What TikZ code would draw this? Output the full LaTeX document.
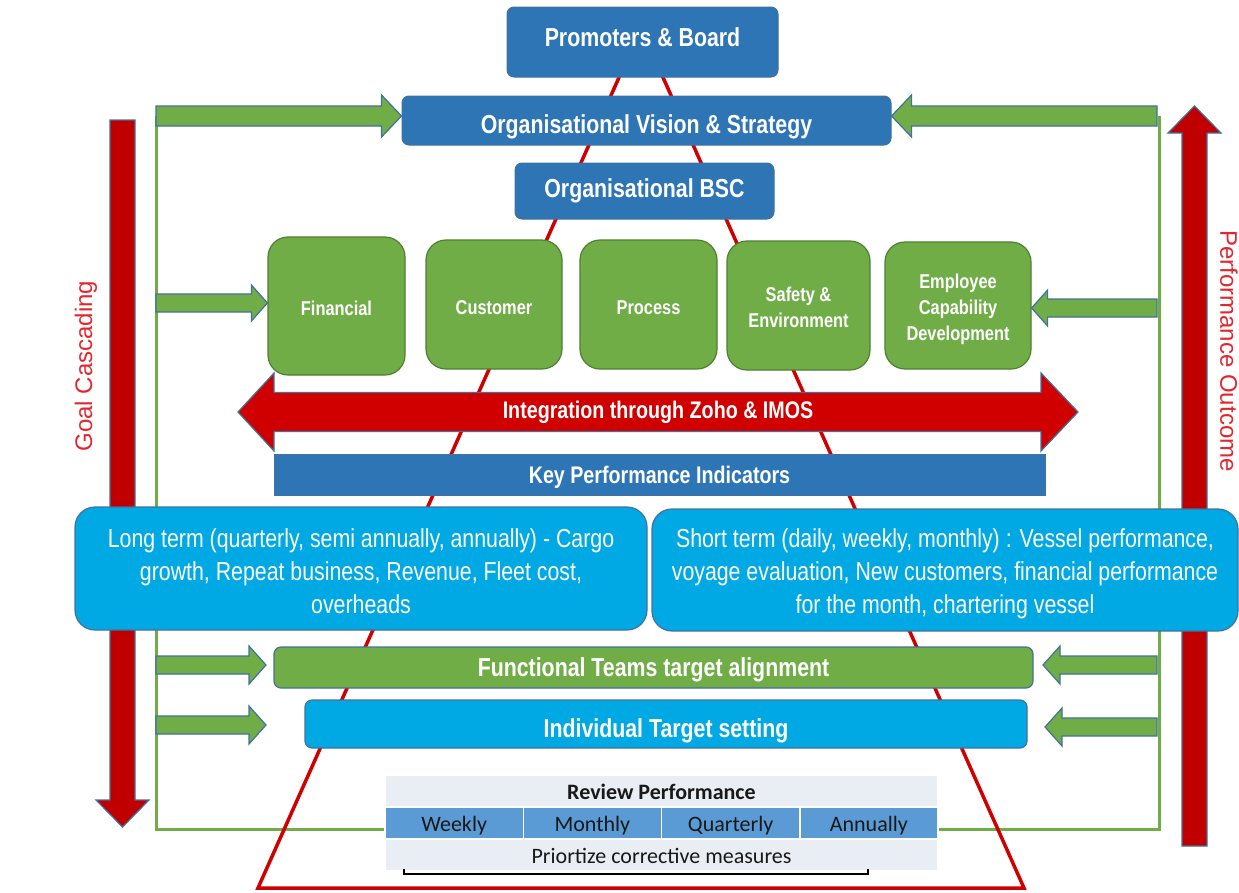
\documentclass[tikz,border=0pt]{standalone}
\usepackage{fontspec}
\setmainfont{Liberation Sans}
\newfontfamily\narrowfont[FakeStretch=0.82]{Liberation Sans}
\newfontfamily\tablefont{Carlito}
\usetikzlibrary{calc}
\definecolor{boxblue}{HTML}{2E75B6}
\definecolor{edgeblue}{HTML}{41719C}
\definecolor{bscgreen}{HTML}{70AD47}
\definecolor{greenedge}{HTML}{507E32}
\definecolor{skyblue}{HTML}{00A9E4}
\definecolor{deepred}{HTML}{C00000}
\definecolor{pyred}{HTML}{D00000}
\definecolor{labelred}{HTML}{E3262D}
\definecolor{rowpale}{HTML}{E9EDF4}
\definecolor{rowblue}{HTML}{5B9BD5}

\begin{document}
\begin{tikzpicture}[x=1pt,y=-1pt,
    darkbox/.style={draw=edgeblue,line width=1pt,fill=boxblue,rounded corners=7pt,inner sep=0pt,text=white,font=\narrowfont\bfseries\fontsize{26}{30}\selectfont},
    pillar/.style={draw=greenedge,line width=1.2pt,fill=bscgreen,rounded corners=20pt,inner sep=0pt,text=white,align=center,font=\narrowfont\bfseries\fontsize{20}{26}\selectfont},
    oneline/.style={text height=19pt,text depth=0pt},
    twoline/.style={text height=45pt},
    threeline/.style={text height=75pt},
    termbox/.style={draw=edgeblue,line width=1.2pt,fill=skyblue,rounded corners=20pt,inner sep=0pt,text=white,align=center,font=\narrowfont\fontsize{26}{33}\selectfont},
    barbox/.style={draw=edgeblue,line width=1.2pt,rounded corners=7pt,inner sep=0pt,text=white,font=\narrowfont\bfseries\fontsize{26}{30}\selectfont},
    tcell/.style={draw=white,line width=1.5pt,inner sep=0pt,minimum height=31pt,text height=17pt,text depth=0pt,font=\tablefont\fontsize{22}{24}\selectfont,text=black!90},
    garrow/.style={draw=edgeblue,line width=1.2pt,fill=bscgreen},
    rarrow/.style={draw=edgeblue,line width=1.2pt,fill=deepred},
    greenframe/.style={draw=bscgreen,line width=3pt},
    pyramid/.style={draw=pyred,line width=3.5pt},
    sidetext/.style={text=labelred,font=\fontsize{24}{28}\selectfont}]
    \useasboundingbox (0,0) rectangle (1239,892);
    \def\blockarr#1#2#3#4#5#6{
    \draw[#1] let \p1=($(#3)!#6!(#2)$) in
    ($(#2)!#4!90:(#3)$) -- ($(\p1)!#4!90:(#3)$) -- ($(\p1)!#5!90:(#3)$) -- (#3)
    -- ($(\p1)!#5!-90:(#3)$) -- ($(\p1)!#4!-90:(#3)$) -- ($(#2)!#4!-90:(#3)$) -- cycle;
    }

    \coordinate (vl) at (156,116);
    \coordinate (vr) at (1159,116);
    \coordinate (fbl) at (156,829);
    \coordinate (fbr) at (1159,829);
    \draw[greenframe] (vl) -- (fbl) -- (fbr) -- (vr);

    \coordinate (apex) at (641,28);
    \coordinate (baseL) at (258,888);
    \coordinate (baseR) at (1024,888);
    \draw[pyramid] (apex) -- (baseL) -- (baseR) -- cycle;

    \coordinate (gc1) at (122.5,120);
    \coordinate (gc2) at (122.5,827);
    \coordinate (po1) at (1194.5,846);
    \coordinate (po2) at (1194.5,106);
    \blockarr{rarrow}{gc1}{gc2}{12.5pt}{26.5pt}{27pt}
    \blockarr{rarrow}{po1}{po2}{12.5pt}{26.5pt}{27pt}
    \node[sidetext,rotate=90] (goal) at (86,366) {Goal Cascading};
    \node[sidetext,rotate=-90] (outcome) at (1229,351) {Performance Outcome};

    \node[darkbox,text height=19pt,text depth=10pt,minimum width=271pt,minimum height=70pt] (board) at (642.5,42) {Promoters \& Board};
    \node[darkbox,text height=26pt,text depth=0pt,minimum width=489pt,minimum height=49pt] (vision) at (646.5,120.5) {Organisational Vision \& Strategy};
    \node[darkbox,minimum width=259pt,minimum height=56pt] (bsc) at (644.5,191) {Organisational BSC};

    \foreach \n/\x/\y/\w/\h/\s/\t in {fin/336.5/306/137/138/oneline/Financial,
        cus/494/304.5/136/129/oneline/Customer,
        pro/648.5/304.5/137/129/oneline/Process,
        saf/798.5/305.5/143/129/twoline/{Safety \&\\Environment},
        emp/958/305.5/146/127/threeline/{Employee\\Capability\\Development}}
    {
    \node[pillar,\s,minimum width=\w pt,minimum height=\h pt] (\n) at (\x,\y) {\t};
    }

    \coordinate (intL) at (238,412);
    \coordinate (intR) at (1078,412);
    \draw[rarrow,fill=pyred] (intL) -- ($(intL)+(36,-39)$) -- ($(intL)+(36,-19.5)$)
    -- ($(intR)+(-37,-19.5)$) -- ($(intR)+(-37,-39)$) -- (intR)
    -- ($(intR)+(-37,39)$) -- ($(intR)+(-37,19.5)$) -- ($(intL)+(36,19.5)$)
    -- ($(intL)+(36,39)$) -- cycle;
    \node[text=white,font=\narrowfont\bfseries\fontsize{24}{28}\selectfont] (integ) at (658,412) {Integration through Zoho \& IMOS};

    \node[darkbox,rounded corners=0pt,text depth=0pt,font=\narrowfont\bfseries\fontsize{24}{28}\selectfont,
    minimum width=771pt,minimum height=41pt] (kpi) at (659.5,474.5) {Key Performance Indicators};

    \node[termbox,text height=90pt,minimum width=572pt,minimum height=123pt] (longterm) at (361,568.5)
    {Long term (quarterly, semi annually, annually) - Cargo\\growth, Repeat business, Revenue, Fleet cost,\\overheads};
    \node[termbox,text height=93pt,minimum width=586pt,minimum height=122pt] (shortterm) at (945,570)
    {Short term (daily, weekly, monthly) : Vessel performance,\\voyage evaluation, New customers, financial performance\\for the month, chartering vessel};

    \node[barbox,fill=bscgreen,text depth=0pt,minimum width=759pt,minimum height=41pt] (functeam) at (653.5,667.5) {Functional Teams target alignment};
    \node[barbox,fill=skyblue,text height=26pt,text depth=0pt,minimum width=722pt,minimum height=48pt] (indiv) at (666,724) {Individual Target setting};

    \node[tcell,fill=rowpale,minimum width=553pt,font=\tablefont\bfseries\fontsize{22}{24}\selectfont] (review) at (661.5,791) {Review Performance};
    \foreach \n/\t [count=\i] in {wk/Weekly,mo/Monthly,qu/Quarterly,an/Annually}
    {
    \node[tcell,fill=rowblue,minimum width=138.25pt] (\n) at (385+138.25*\i-69.125,823) {\t};
    }
    \node[tcell,fill=rowpale,minimum width=553pt] (corr) at (661.5,855) {Priortize corrective measures};
    \draw[line width=2pt] (404,869) -- (404,874) -- (868,874) -- (868,869);

    \coordinate (vlt) at (vision.west |- vl);
    \coordinate (vrt) at (vision.east |- vl);
    \blockarr{garrow}{vl}{vlt}{10pt}{21pt}{20pt}
    \blockarr{garrow}{1157,116}{vrt}{10pt}{21pt}{20pt}
    \coordinate (fl) at (156,303);
    \coordinate (flt) at (fin.west |- fl);
    \blockarr{garrow}{fl}{flt}{9pt}{18pt}{16pt}
    \coordinate (er) at (1157,308);
    \coordinate (ert) at (emp.east |- er);
    \blockarr{garrow}{er}{ert}{9pt}{18pt}{16pt}
    \coordinate (tl) at (156,665);
    \coordinate (tlt) at (266,665);
    \blockarr{garrow}{tl}{tlt}{9pt}{19pt}{17pt}
    \coordinate (il) at (156,725);
    \coordinate (ilt) at (266,725);
    \blockarr{garrow}{il}{ilt}{9pt}{19pt}{17pt}
    \coordinate (tr) at (1157,665);
    \coordinate (trt) at (1043,665);
    \blockarr{garrow}{tr}{trt}{9pt}{19pt}{17pt}
    \coordinate (ir) at (1157,727);
    \coordinate (irt) at (1045,727);
    \blockarr{garrow}{ir}{irt}{9pt}{19pt}{17pt}
\end{tikzpicture}
\end{document}
